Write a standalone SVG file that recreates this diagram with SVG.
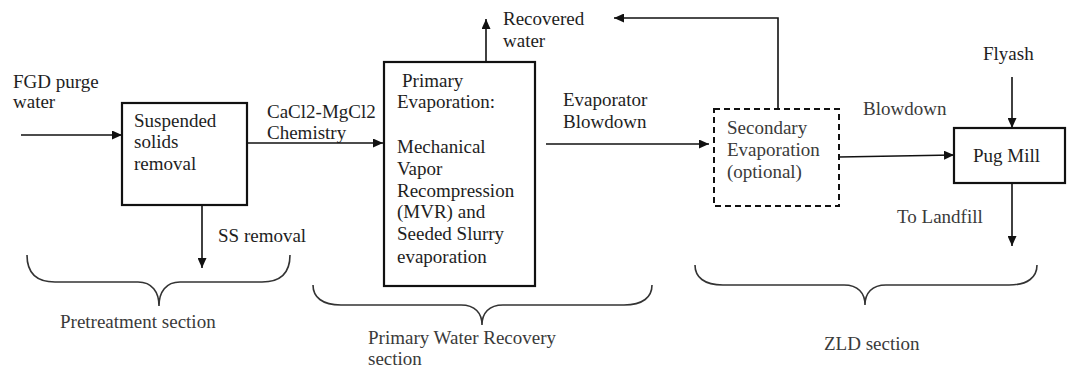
<svg xmlns="http://www.w3.org/2000/svg" width="1069" height="369" viewBox="0 0 1069 369">
  <style>
    text { font-family: 'Liberation Serif', 'Times New Roman', serif; font-size: 19px; fill: #1e1e1e; }
    .soft { fill: #3a3a3a; }
    .box { fill: #ffffff; stroke: #111; stroke-width: 2.2; }
    .dashed { fill: #ffffff; stroke: #111; stroke-width: 2; stroke-dasharray: 6 4; }
    .flow { fill: none; stroke: #111; stroke-width: 1.6; }
    .brace { fill: none; stroke: #333; stroke-width: 1.6; }
  </style>
  <defs>
    <marker id="arrow" viewBox="0 0 10 10" refX="10" refY="5" markerWidth="10" markerHeight="9" markerUnits="userSpaceOnUse" orient="auto" preserveAspectRatio="none">
      <path d="M0,0 L10,5 L0,10 Z" fill="#111"/>
    </marker>
  </defs>
  <rect width="1069" height="369" fill="#ffffff"/>

  <!-- connectors -->
  <g id="connectors">
    <line class="flow" x1="21" y1="135" x2="122" y2="135" marker-end="url(#arrow)"/>
    <line class="flow" x1="247" y1="143" x2="383" y2="143" marker-end="url(#arrow)"/>
    <line class="flow" x1="202" y1="205" x2="202" y2="268" marker-end="url(#arrow)"/>
    <line class="flow" x1="486" y1="62" x2="486" y2="19" marker-end="url(#arrow)"/>
    <line class="flow" x1="546" y1="144" x2="709" y2="144" marker-end="url(#arrow)"/>
    <polyline class="flow" points="778,109 778,18 614,18" marker-end="url(#arrow)"/>
    <line class="flow" x1="839" y1="157" x2="954" y2="155" marker-end="url(#arrow)"/>
    <line class="flow" x1="1012" y1="77" x2="1012" y2="128" marker-end="url(#arrow)"/>
    <line class="flow" x1="1012" y1="177" x2="1012" y2="246" marker-end="url(#arrow)"/>
  </g>

  <!-- process units -->
  <g id="suspended-solids">
    <rect class="box" x="122" y="103" width="125" height="102"/>
    <text x="134" y="127">Suspended</text>
    <text x="134" y="148">solids</text>
    <text x="134" y="170">removal</text>
  </g>
  <g id="primary-evaporation">
    <rect class="box" x="384" y="62" width="151" height="224"/>
    <text x="402" y="87">Primary</text>
    <text x="397" y="108">Evaporation:</text>
    <text x="397" y="153">Mechanical</text>
    <text x="397" y="175">Vapor</text>
    <text x="397" y="197">Recompression</text>
    <text x="397" y="218">(MVR) and</text>
    <text x="397" y="240">Seeded Slurry</text>
    <text x="397" y="263">evaporation</text>
  </g>
  <g id="secondary-evaporation">
    <rect class="dashed" x="714" y="109" width="125" height="97"/>
    <text class="soft" x="727" y="134">Secondary</text>
    <text class="soft" x="727" y="156">Evaporation</text>
    <text class="soft" x="727" y="178">(optional)</text>
  </g>
  <g id="pug-mill">
    <rect class="box" x="954" y="128" width="111" height="55"/>
    <text x="973" y="162">Pug Mill</text>
  </g>

  <!-- stream labels -->
  <g id="stream-labels">
    <text x="13" y="88">FGD purge</text>
    <text x="13" y="108">water</text>
    <text x="267" y="118">CaCl2-MgCl2</text>
    <text x="267" y="139">Chemistry</text>
    <text x="218" y="242">SS removal</text>
    <text x="503" y="25">Recovered</text>
    <text x="503" y="47">water</text>
    <text x="563" y="106">Evaporator</text>
    <text x="563" y="128">Blowdown</text>
    <text class="soft" x="863" y="115">Blowdown</text>
    <text x="983" y="60">Flyash</text>
    <text class="soft" x="897" y="223">To Landfill</text>
  </g>

  <!-- section braces -->
  <g id="pretreatment-section">
    <path class="brace" d="M27,255 C27,272 36,282 55,282 L138,282 C152,282 159,292 159,306 C159,292 166,282 180,282 L262,282 C281,282 290,272 290,255"/>
    <text class="soft" x="60" y="328">Pretreatment section</text>
  </g>
  <g id="primary-recovery-section">
    <path class="brace" d="M313,285 C313,297 322,305 341,305 L461,305 C475,305 482,313 482,325 C482,313 489,305 503,305 L624,305 C643,305 652,297 652,285"/>
    <text class="soft" x="368" y="344">Primary Water Recovery</text>
    <text class="soft" x="368" y="365">section</text>
  </g>
  <g id="zld-section">
    <path class="brace" d="M695,265 C695,277 704,285 723,285 L844,285 C858,285 865,293 865,305 C865,293 872,285 886,285 L1009,285 C1028,285 1037,277 1037,265"/>
    <text class="soft" x="824" y="350">ZLD section</text>
  </g>
</svg>
